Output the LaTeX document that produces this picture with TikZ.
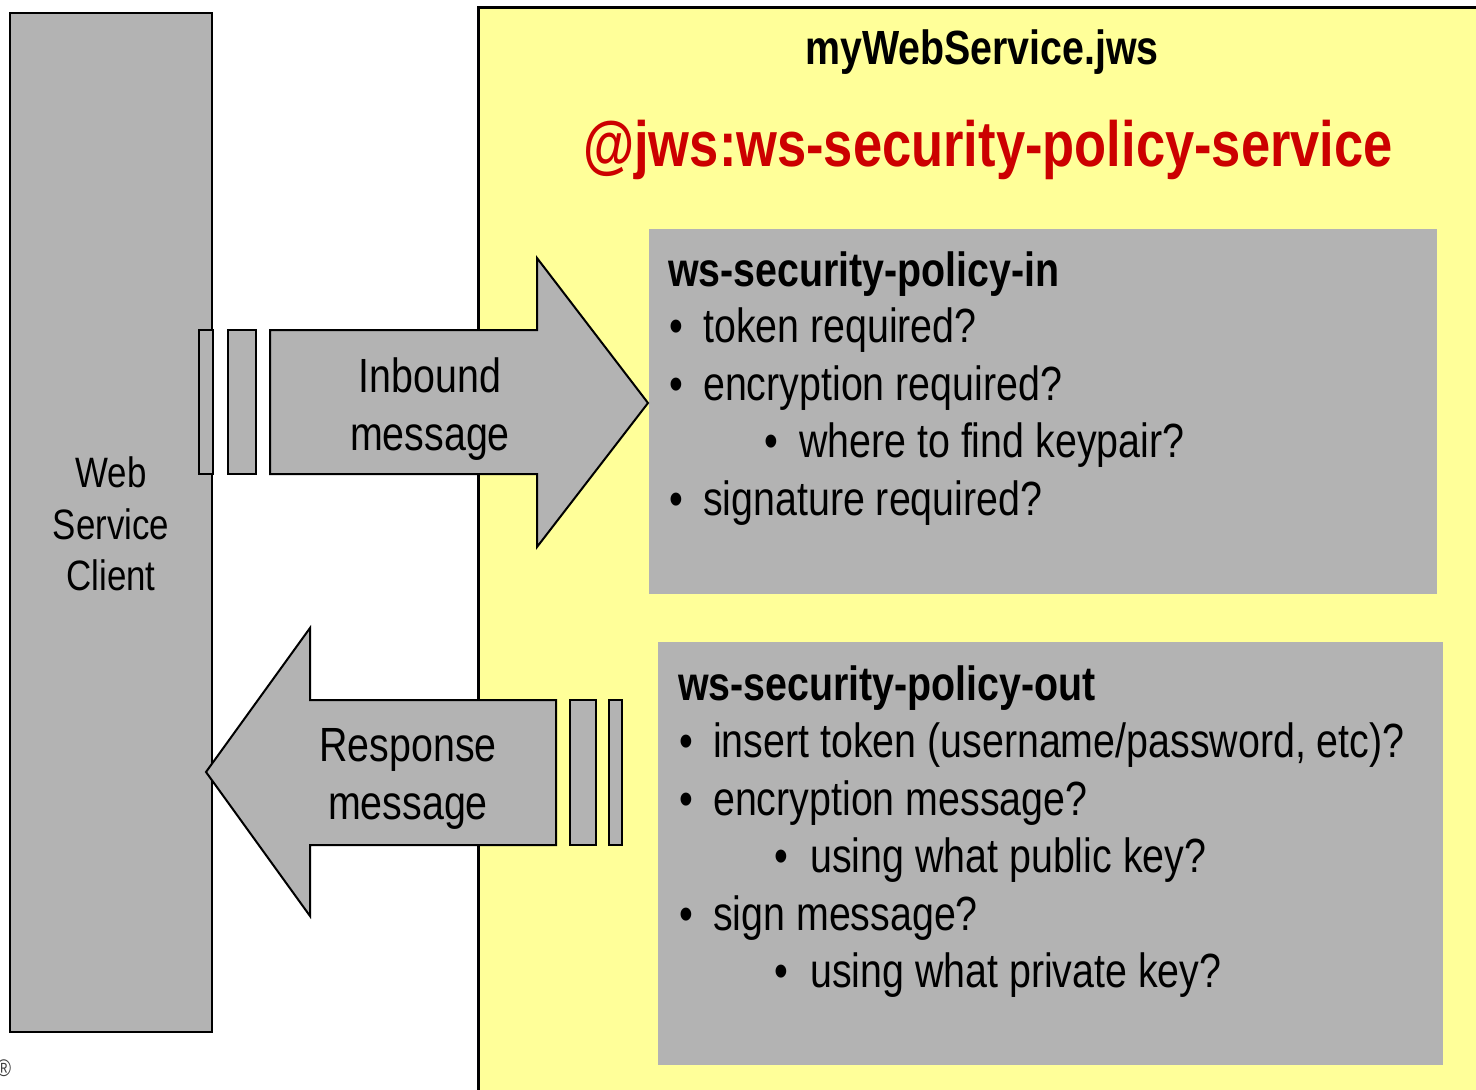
\documentclass[tikz,border=0pt]{standalone}
\usepackage{fontspec}
\setmainfont{Liberation Sans}[FakeStretch=0.82]
\definecolor{boxgray}{HTML}{B3B3B3}
\definecolor{paneyellow}{HTML}{FFFF99}
\definecolor{annotred}{HTML}{CC0000}
\tikzset{
  outl/.style={draw=black, line width=2pt, fill=boxgray, line join=miter},
  panel/.style={fill=boxgray, draw=none},
  txt/.style={inner sep=0pt, anchor=base west, font=\fontsize{48}{57.5}\selectfont},
  head/.style={inner sep=0pt, anchor=base west, font=\fontsize{48}{57.5}\selectfont\bfseries},
  lbl/.style={inner sep=0pt, align=center, font=\fontsize{48}{58}\selectfont},
}
\begin{document}
\begin{tikzpicture}[x=1pt,y=-1pt]
\useasboundingbox (0,0) rectangle (1476,1090);
\clip (0,0) rectangle (1476,1090);

% service pane
\path[fill=paneyellow, draw=black, line width=3pt] (478,7) rectangle (1500,1110);
\node (svc) [inner sep=0pt, anchor=base, font=\fontsize{48}{58}\selectfont\bfseries] at (982,64) {myWebService.jws};
\node (ann) [inner sep=0pt, anchor=base, text=annotred, font=\fontsize{64}{77}\selectfont\bfseries] at (988,166) {@jws:ws-security-policy-service};

% client column
\node (client) [outl, line width=1.5pt, minimum width=202pt, minimum height=1019pt, inner sep=0pt] at (111,522.5) {};
\node (clientlbl) [lbl, font=\fontsize{42.5}{51.5}\selectfont] at (111,524) {Web\\Service\\Client};

% policy boxes
\node (pin) [panel, minimum width=788pt, minimum height=365pt, inner sep=0pt] at (1043,411.5) {};
\node (pout) [panel, minimum width=785pt, minimum height=423pt, inner sep=0pt] at (1050.5,853.5) {};

% inbound arrow with trailing bars
\node (ib1) [outl, minimum width=14pt, minimum height=144pt, inner sep=0pt] at (206,402) {};
\node (ib2) [outl, minimum width=28pt, minimum height=144pt, inner sep=0pt] at (242,402) {};
\path[outl] (270,330) -- (537,330) -- (537,258) -- (648,403) -- (537,547) -- (537,474) -- (270,474) -- cycle;
\node (inlbl) [lbl] at (430,409) {Inbound\\message};

% response arrow with trailing bars
\path[outl] (556,700) -- (310,700) -- (310,628) -- (206,772) -- (310,916) -- (310,845) -- (556,845) -- cycle;
\node (ob1) [outl, minimum width=26pt, minimum height=145pt, inner sep=0pt] at (583,772.5) {};
\node (ob2) [outl, minimum width=13pt, minimum height=145pt, inner sep=0pt] at (615.5,772.5) {};
\node (outlbl) [lbl] at (408,779) {Response\\message};

% inbound policy text
\node (pinh) [head] at (668,286) {ws-security-policy-in};
\node (pb1) [txt] at (669,342.5) {•};
\node (pt1) [txt] at (703,342.5) {token required?};
\node (pb2) [txt] at (669,400) {•};
\node (pt2) [txt] at (703,400) {encryption required?};
\node (pb3) [txt] at (764,457.5) {•};
\node (pt3) [txt] at (799,457.5) {where to find keypair?};
\node (pb4) [txt] at (669,515) {•};
\node (pt4) [txt] at (703,515) {signature required?};

% outbound policy text
\node (pouth) [head] at (678,700) {ws-security-policy-out};
\node (qb1) [txt] at (679,757.5) {•};
\node (qt1) [txt] at (713,757.5) {insert token (username/password, etc)?};
\node (qb2) [txt] at (679,815) {•};
\node (qt2) [txt] at (713,815) {encryption message?};
\node (qb3) [txt] at (774,872.5) {•};
\node (qt3) [txt] at (810,872.5) {using what public key?};
\node (qb4) [txt] at (679,930) {•};
\node (qt4) [txt] at (713,930) {sign message?};
\node (qb5) [txt] at (774,987.5) {•};
\node (qt5) [txt] at (810,987.5) {using what private key?};

% registered mark at the corner
\node (reg) [inner sep=0pt, text=black!75, font=\fontsize{24}{24}\selectfont] at (4,1068) {®};
\end{tikzpicture}
\end{document}
